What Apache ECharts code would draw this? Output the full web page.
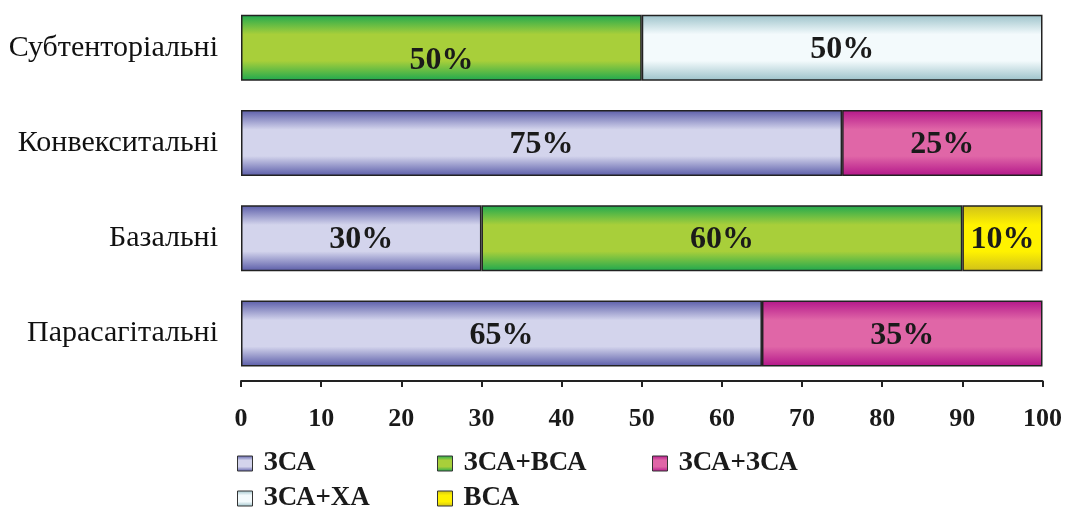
<!DOCTYPE html>
<html>
<head>
    <meta charset="utf-8" />
    <title>Локалізація</title>
    <script src="https://cdn.jsdelivr.net/npm/echarts@6/dist/echarts.min.js"></script>
    <style>
        html, body { margin: 0; padding: 0; background: #fff; }
        #container { width: 1065px; height: 511px; }
    </style>
</head>
<body>
<div id="container"></div>

<script type="text/javascript">

    // categories, top to bottom
    var categories = ['Субтенторіальні', 'Конвекситальні', 'Базальні', 'Парасагітальні'];

    // percent shares per category
    var seriesNames = ['ЗСА', 'ЗСА+ВСА', 'ЗСА+ЗСА', 'ЗСА+ХА', 'ВСА'];
    var zsa    = [0, 75, 30, 65];
    var zsaVsa = [50, 0, 60, 0];
    var zsaZsa = [0, 25, 0, 35];
    var zsaXa  = [50, 0, 0, 0];
    var vsa    = [0, 0, 10, 0];

    var xTicks = [0, 10, 20, 30, 40, 50, 60, 70, 80, 90, 100];

    var values = [zsa, zsaVsa, zsaZsa, zsaXa, vsa];

    // colour ramps: edge colour, middle colour
    var ramps = [
        ['#5a5ca8', '#d3d4ec'],
        ['#1ea84f', '#a8cf3a'],
        ['#b3168a', '#e066a7'],
        ['#9cc2ca', '#f3fafc'],
        ['#cfc01a', '#fff200']
    ];

    var serif = '"Liberation Serif", "Times New Roman", serif';

    function grad(r) {
        return new echarts.graphic.LinearGradient(0, 0, 0, 1, [
            { offset: 0, color: r[0] },
            { offset: 0.3, color: r[1] },
            { offset: 0.7, color: r[1] },
            { offset: 1, color: r[0] }
        ]);
    }

    var series = [];
    for (var s = 0; s < seriesNames.length; s++) {
        var data = [];
        for (var i = 0; i < categories.length; i++) {
            var v = values[s][i];
            if (!v) {
                data.push('-');
                continue;
            }
            var item = { value: v };
            // the green label on the first bar sits a bit lower in the original
            if (s === 1 && i === 0) {
                item.label = { offset: [0, 13] };
            }
            data.push(item);
        }
        series.push({
            name: seriesNames[s],
            type: 'bar',
            stack: 'total',
            barWidth: 66,
            data: data,
            itemStyle: {
                color: grad(ramps[s]),
                borderColor: '#222',
                borderWidth: 1.5
            },
            label: {
                show: true,
                position: 'inside',
                offset: [0, 2],
                formatter: '{c}%',
                color: '#1a1a1a',
                fontFamily: serif,
                fontWeight: 'bold',
                fontSize: 32
            },
            emphasis: { disabled: true }
        });
    }

    var legendPos = [
        [237, 450], [437, 450], [652, 450],
        [237, 485], [437, 485]
    ];
    var legends = [];
    for (var k = 0; k < seriesNames.length; k++) {
        legends.push({
            data: [seriesNames[k]],
            left: legendPos[k][0],
            top: legendPos[k][1],
            padding: 0,
            icon: 'rect',
            itemWidth: 15,
            itemHeight: 15,
            itemStyle: { borderColor: '#333', borderWidth: 1 },
            selectedMode: false,
            textStyle: {
                fontFamily: serif,
                fontWeight: 'bold',
                fontSize: 27,
                color: '#1a1a1a',
                padding: [0, 0, 0, 6]
            }
        });
    }

    var chart = echarts.init(document.getElementById('container'));

    chart.setOption({
        animation: false,
        grid: { left: 241, right: 22, top: 0, bottom: 130 },
        legend: legends,
        xAxis: {
            type: 'value',
            min: xTicks[0],
            max: xTicks[xTicks.length - 1],
            interval: xTicks[1] - xTicks[0],
            splitLine: { show: false },
            axisLine: { show: true, lineStyle: { color: '#222', width: 2 } },
            axisTick: { show: true, length: 6, lineStyle: { color: '#222', width: 2 } },
            axisLabel: {
                margin: 25,
                fontFamily: serif,
                fontWeight: 'bold',
                fontSize: 26,
                color: '#1a1a1a'
            }
        },
        yAxis: {
            type: 'category',
            inverse: true,
            data: categories,
            axisLine: { show: false },
            axisTick: { show: false },
            axisLabel: {
                margin: 23,
                fontFamily: serif,
                fontSize: 30,
                color: '#111'
            }
        },
        series: series
    });

</script>
</body>
</html>
